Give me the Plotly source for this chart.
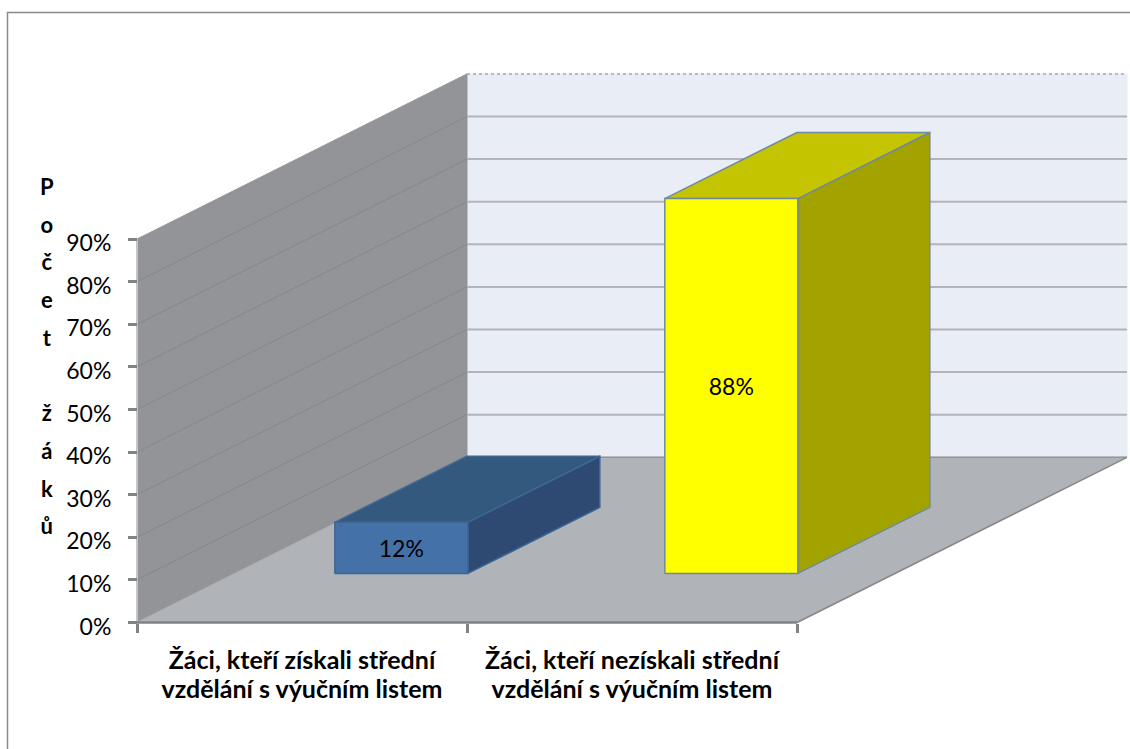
import plotly.graph_objects as go

categories = [
    "Žáci, kteří získali střední<br>vzdělání s výučním listem",
    "Žáci, kteří nezískali střední<br>vzdělání s výučním listem",
]
values = [12, 88]
bar_fronts = ["#4472a8", "#ffff00"]
bar_tops = ["#34597f", "#c4c400"]
bar_sides = ["#2e4a72", "#a3a300"]
bar_edges = ["#3d6693", "#7089a3"]
y_ticks = [0, 10, 20, 30, 40, 50, 60, 70, 80, 90]
y_title = ["P", "o", "č", "e", "t", " ", "ž", "á", "k", "ů"]

WIDTH, HEIGHT = 1130, 749
ORIGIN_X, ORIGIN_Y = 137, 622.5   # pixel of category 0 / 0 %
CAT_PX, PCT_PX = 330, 4.26        # pixels per category / per percent
DEPTH_Y = 165.2 / PCT_PX          # how far up the full depth goes, in percent
BAR_CENTER = 0.504
BAR_WIDTH = 0.403
BAR_START, BAR_DEPTH = 0.297, 0.4
LABEL_DROP = 0.7                  # data labels sit a little under the face centre
N_CATS = len(categories)
Y_MAX = y_ticks[-1]


def project(cat, val, depth=0):
    """Oblique projection: depth 0 is the front edge, 1 the back wall."""
    return cat + depth, val + depth * DEPTH_Y


fig = go.Figure()


def add_face(points, fill, line=None, width=1):
    xs, ys = zip(*[project(*p) for p in points])
    fig.add_trace(go.Scatter(
        x=list(xs) + [xs[0]], y=list(ys) + [ys[0]],
        mode="lines", fill="toself", fillcolor=fill,
        line=dict(color=line or fill, width=width),
        hoverinfo="skip", showlegend=False,
    ))


def add_line(points, color, width=1, dash="solid"):
    xs, ys = zip(*[project(*p) for p in points])
    fig.add_trace(go.Scatter(
        x=xs, y=ys, mode="lines", line=dict(color=color, width=width, dash=dash),
        hoverinfo="skip", showlegend=False,
    ))


# walls and floor
add_face([(0, 0, 1), (N_CATS, 0, 1), (N_CATS, Y_MAX, 1), (0, Y_MAX, 1)], "#e9edf6")
add_face([(0, 0, 0), (0, Y_MAX, 0), (0, Y_MAX, 1), (0, 0, 1)], "#929498")
add_face([(0, 0, 0), (0, 0, 1), (N_CATS, 0, 1), (N_CATS, 0, 0)], "#b0b3b8")

for t in y_ticks[1:-1]:
    add_line([(0, t, 0), (0, t, 1)], "#85878a", 1)
    add_line([(0, t, 1), (N_CATS, t, 1)], "#b3b4ba", 2)
add_line([(0, Y_MAX, 1), (N_CATS, Y_MAX, 1)], "#a8a8a8", 1.5, "dot")
add_line([(0, 0, 1), (N_CATS, 0, 1)], "#939598", 1.5)
add_line([(N_CATS, 0, 0), (N_CATS, 0, 1)], "#85878a", 1.5)
add_line([(0, 0, 0), (0, Y_MAX, 0)], "#c4c5c8", 2)
add_line([(0, 0, 0), (N_CATS, 0, 0)], "#808285", 2.5)

# bars: side, top, then front face
for i, val in enumerate(values):
    left = i + BAR_CENTER - BAR_WIDTH / 2
    right = i + BAR_CENTER + BAR_WIDTH / 2
    near, far = BAR_START, BAR_START + BAR_DEPTH
    add_face([(right, 0, near), (right, 0, far), (right, val, far), (right, val, near)],
             bar_sides[i], bar_edges[i], 1.5)
    add_face([(left, val, near), (right, val, near), (right, val, far), (left, val, far)],
             bar_tops[i], bar_edges[i], 1.5)
    add_face([(left, 0, near), (right, 0, near), (right, val, near), (left, val, near)],
             bar_fronts[i], bar_edges[i], 1.5)
    lx, ly = project(i + BAR_CENTER, val / 2 - LABEL_DROP, near)
    fig.add_trace(go.Scatter(
        x=[lx], y=[ly], mode="text", text=[f"{val}%"], textposition="middle center",
        textfont=dict(family="Lato", size=23, color="#000000"),
        hoverinfo="skip", showlegend=False,
    ))

fig.update_layout(
    width=WIDTH,
    height=HEIGHT,
    margin=dict(l=0, r=0, t=0, b=0),
    paper_bgcolor="#ffffff",
    plot_bgcolor="#ffffff",
    showlegend=False,
    font=dict(family="Lato", color="#000000"),
    xaxis=dict(
        domain=[0, 1],
        range=[-ORIGIN_X / CAT_PX, (WIDTH - ORIGIN_X) / CAT_PX],
        anchor="free",
        position=(HEIGHT - ORIGIN_Y) / HEIGHT,
        showgrid=False, zeroline=False, showline=False,
        tickmode="array",
        tickvals=[i + 0.5 for i in range(N_CATS)],
        ticktext=['<span style="font-size:25px"><b>'
                  + c.replace("<br>", '</b></span><br><span style="font-size:25px"><b>')
                  + "</b></span>" for c in categories],
        ticks="",
        tickfont=dict(family="Lato", size=23, color="#000000"),
        ticklabelstandoff=22,
        minor=dict(tickmode="array", tickvals=list(range(N_CATS + 1)), ticks="outside",
                   ticklen=9, tickwidth=3, tickcolor="#808285", showgrid=False),
    ),
    yaxis=dict(
        domain=[0, 1],
        range=[-(HEIGHT - ORIGIN_Y) / PCT_PX, ORIGIN_Y / PCT_PX],
        anchor="free",
        position=ORIGIN_X / WIDTH,
        showgrid=False, zeroline=False, showline=False,
        tickmode="array",
        tickvals=y_ticks,
        ticktext=[f"{t}%" for t in y_ticks],
        ticks="outside", ticklen=9, tickwidth=2.5, tickcolor="#808285",
        tickfont=dict(family="Lato", size=23, color="#000000"),
        ticklabelstandoff=12,
        ticklabelshift=4,
    ),
    annotations=[dict(
        x=47 / WIDTH, y=1 - 356 / HEIGHT, xref="paper", yref="paper",
        xanchor="center", yanchor="middle", showarrow=False, align="center",
        text="<br>".join(f'<span style="font-size:22px"><b>{ch}</b></span>' for ch in y_title),
        font=dict(family="Lato", size=29, color="#000000"),
    )],
    shapes=[dict(
        type="rect", xref="paper", yref="paper",
        x0=7.5 / WIDTH, x1=1.01, y0=-0.01, y1=1 - 12.5 / HEIGHT,
        line=dict(color="#8a8a8a", width=1.5), layer="below",
    )],
)

# drop the browser's body margin so the figure fills the window exactly
fig.write_html("out.html", default_width=f"{WIDTH}px", default_height=f"{HEIGHT}px",
               config={"displayModeBar": False},
               post_script="document.body.style.margin = '0';")
